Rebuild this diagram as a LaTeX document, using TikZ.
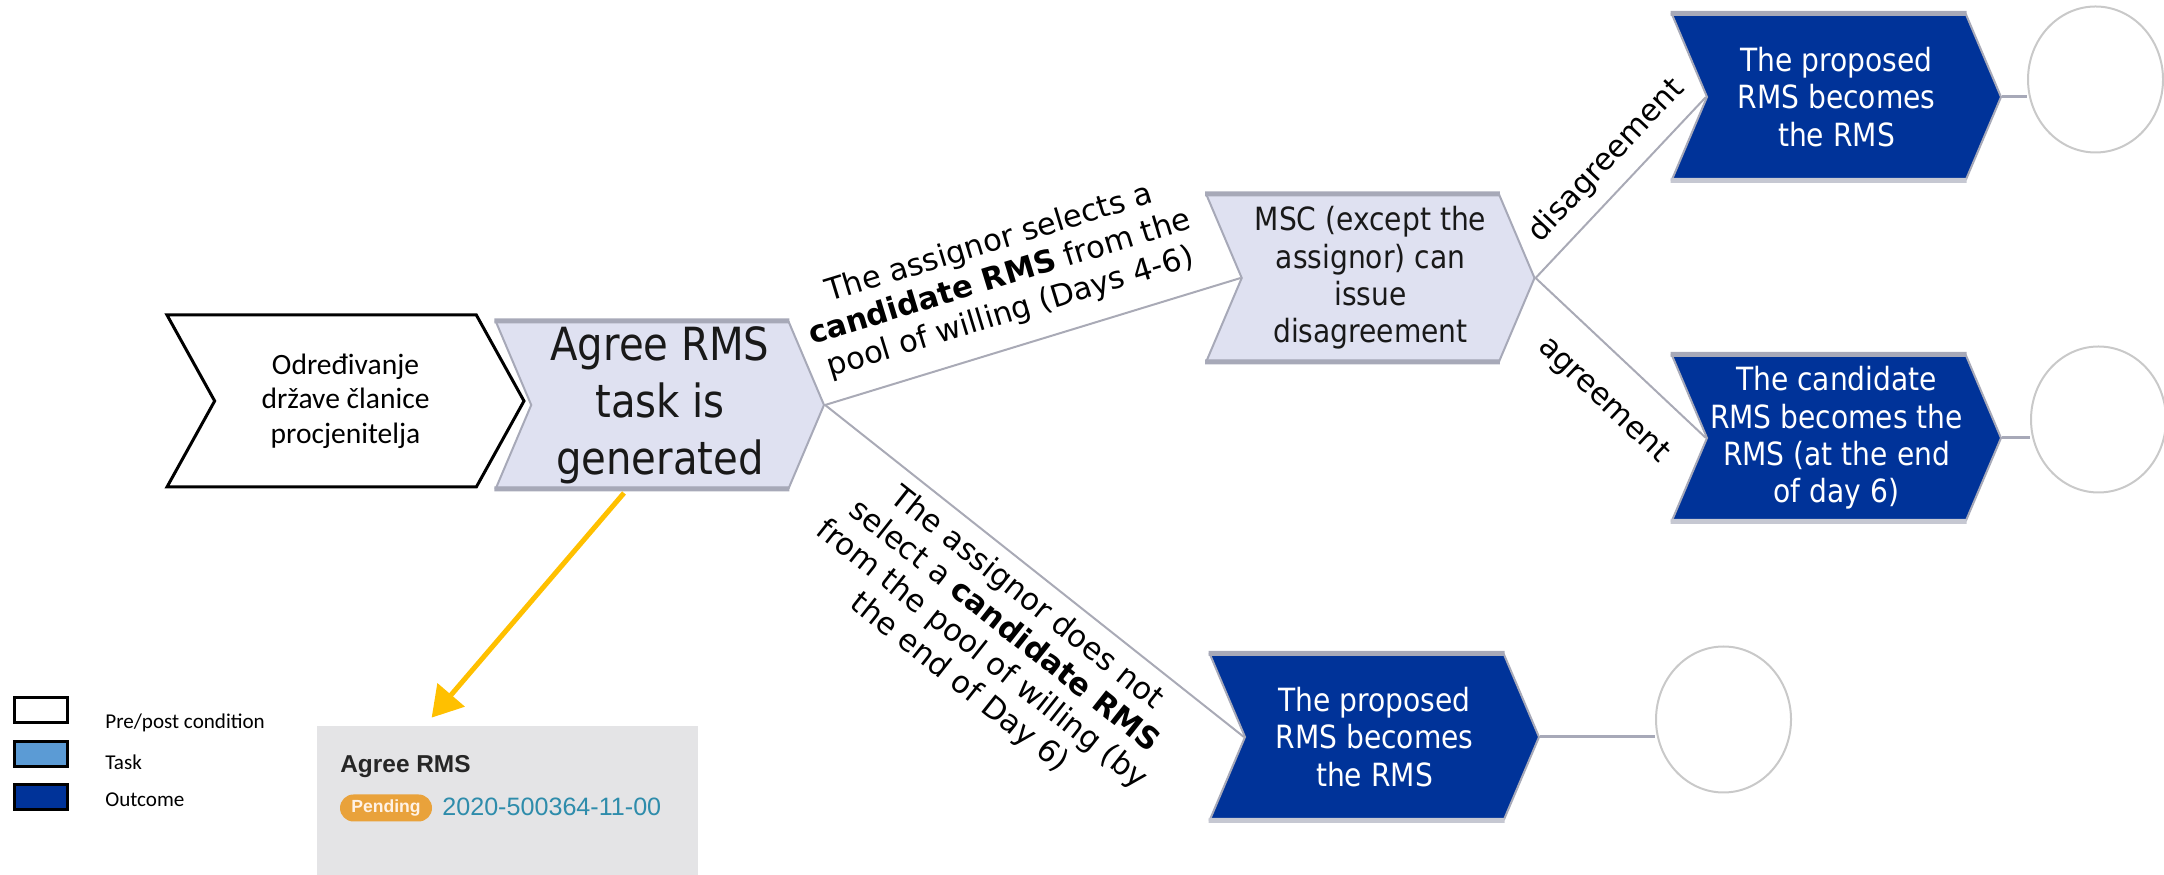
\documentclass[tikz,border=0pt]{standalone}
\usepackage{fontspec}
\setmainfont{DejaVu Sans}
\newfontfamily\condfont{DejaVu Sans}[FakeStretch=0.88]
\newfontfamily\calfont{Carlito}
\newfontfamily\arialfont{Liberation Sans}
\usetikzlibrary{shapes.symbols,shapes.geometric,arrows.meta}

\definecolor{taskfill}{HTML}{DFE1F1}
\definecolor{taskline}{HTML}{A7A9B8}
\definecolor{outfill}{HTML}{003399}
\definecolor{outband}{HTML}{C6C8D2}
\definecolor{legtask}{HTML}{5B9BD5}
\definecolor{edgegray}{HTML}{A9AAB6}
\definecolor{ringgray}{HTML}{C9C9C9}
\definecolor{arrowyellow}{HTML}{FFC000}
\definecolor{shotgray}{HTML}{E4E4E6}
\definecolor{pendorange}{HTML}{E9A23B}
\definecolor{idteal}{HTML}{2E8CAB}

\tikzset{
    chevron/.style={signal, signal to=east, signal from=west, signal pointer angle=134, inner sep=0pt, align=center},
    prebox/.style={chevron, draw=black, line width=0.06cm, fill=white, signal pointer angle=122, minimum width=7.14cm, minimum height=3.44cm, font=\calfont\fontsize{16.8}{19.6}\selectfont},
    taskbox/.style={chevron, draw=taskline, line width=0.04cm, fill=taskfill, text=black!90, minimum width=6.56cm, minimum height=3.32cm, font=\condfont\fontsize{18.2}{21.3}\selectfont,
        append after command={(\tikzlastnode.north west) edge[draw=taskline, line width=0.1cm] (\tikzlastnode.north east)
            (\tikzlastnode.south west) edge[draw=taskline, line width=0.1cm] (\tikzlastnode.south east)}},
    outbox/.style={chevron, draw=taskline, line width=0.04cm, fill=outfill, text=white, minimum width=6.58cm, minimum height=3.3cm, font=\condfont\fontsize{18.2}{21.3}\selectfont,
        append after command={(\tikzlastnode.north west) edge[draw=taskline, line width=0.1cm] (\tikzlastnode.north east)
            (\tikzlastnode.south west) edge[draw=outband, line width=0.1cm] (\tikzlastnode.south east)}},
    endring/.style={ellipse, draw=ringgray, line width=0.04cm, minimum width=2.7cm, minimum height=2.92cm},
    flow/.style={draw=edgegray, line width=0.04cm},
    ringline/.style={draw=taskline, line width=0.06cm},
    flowlabel/.style={font=\fontsize{17.4}{20.5}\selectfont, align=center, sloped},
    legbox/.style={draw=black, line width=0.06cm, minimum width=1.06cm, minimum height=0.5cm},
    legtext/.style={font=\calfont\fontsize{12}{14}\selectfont, anchor=west, inner sep=0pt},
}

\begin{document}
\begin{tikzpicture}
    \useasboundingbox (0,0) rectangle (43.28,17.5);
    % main flow
    \node[prebox] (prep) at (6.91,9.48) {Određivanje\\države članice\\procjenitelja};
    \node[taskbox, font=\condfont\fontsize{26}{32.4}\selectfont] (agree) at (13.2,9.4) {Agree RMS\\task is\\generated};
    \node[taskbox] (msc) at (27.41,11.94) {MSC (except the\\assignor) can\\issue\\disagreement};
    \node[outbox] (outa) at (36.73,15.56) {The proposed\\RMS becomes\\the RMS};
    \node[outbox] (outb) at (36.73,8.74) {The candidate\\RMS becomes the\\RMS (at the end\\of day 6)};
    \node[outbox] (outc) at (27.49,2.76) {The proposed\\RMS becomes\\the RMS};

    % end states
    \node[endring] (enda) at (41.91,15.91) {};
    \node[endring] (endb) at (41.97,9.11) {};
    \node[endring] (endc) at (34.47,3.11) {};
    \draw[ringline] (outa.east) -- (outa.east -| enda.west);
    \draw[ringline] (outb.east) -- (outb.east -| endb.west);
    \draw[ringline] (outc.east) -- (outc.east -| endc.west);

    % branches
    \draw[flow] (agree.east) -- node[flowlabel, above, pos=0.47, inner sep=0.36cm] {The assignor selects a\\\textbf{candidate RMS} from the\\pool of willing (Days 4-6)} (msc.west);
    \draw[flow] (agree.east) -- node[flowlabel, below, pos=0.52, inner sep=0.22cm] {The assignor does not\\select a \textbf{candidate RMS}\\from the pool of willing (by\\the end of Day 6)} (outc.west);
    \draw[flow] (msc.east) -- node[flowlabel, above, pos=0.54, inner sep=0.26cm] {disagreement} (outa.west);
    \draw[flow] (msc.east) -- node[flowlabel, below, pos=0.57, inner sep=0.56cm] {agreement} (outb.west);

    % task screenshot
    \node[fill=shotgray, minimum width=7.62cm, minimum height=2.98cm, inner sep=0pt] (shot) at (10.15,1.49) {};
    \node[anchor=west, inner sep=0pt, text=black!85, font=\arialfont\bfseries\fontsize{13.9}{16}\selectfont] (shottitle) at (6.8,2.16) {Agree RMS};
    \node[fill=pendorange, rounded corners=0.27cm, minimum width=1.84cm, minimum height=0.54cm, inner sep=0pt, text=orange!10, font=\arialfont\bfseries\fontsize{10}{12}\selectfont] (pend) at (7.72,1.34) {Pending};
    \node[anchor=west, inner sep=0pt, text=idteal, font=\arialfont\fontsize{14.3}{16}\selectfont] (taskid) at (8.84,1.36) {2020-500364-11-00};
    \draw[arrowyellow, line width=0.1cm, -{Triangle[length=0.6cm, width=0.7cm]}] ([xshift=-0.72cm, yshift=-0.08cm]agree.south) -- ([xshift=2.3cm, yshift=0.16cm]shot.north west);

    % legend
    \node[legbox, fill=white] (legpre) at (0.81,3.29) {};
    \node[legbox, fill=legtask] (legtask) at (0.81,2.42) {};
    \node[legbox, fill=outfill] (legout) at (0.81,1.55) {};
    \node[legtext] at (2.1,3.04) {Pre/post condition};
    \node[legtext] at (2.1,2.26) {Task};
    \node[legtext] at (2.1,1.5) {Outcome};
\end{tikzpicture}
\end{document}
